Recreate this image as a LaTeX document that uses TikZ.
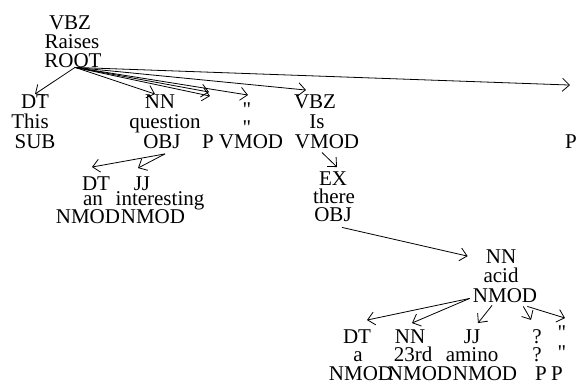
\documentclass[tikz,border=0pt]{standalone}
\usepackage{fontspec}
\setmainfont{Liberation Serif}
\newfontfamily\qfont{Liberation Serif}[Ligatures=TeXOff]
\usetikzlibrary{arrows.meta}
\newcommand\tokfont{\fontsize{21pt}{20pt}\selectfont}
\newcommand\dq{{\qfont\symbol{34}}}
\begin{document}
\begin{tikzpicture}[x=1pt,y=-1pt,
  tok/.style={inner sep=0pt, anchor=base, font=\tokfont},
  dep/.style={-{Straight Barb[length=7pt,width=13pt]}, line width=0.8pt}]
\path[fill=white] (0,0) rectangle (577,383);
\useasboundingbox (0,0) rectangle (577,383);
% root
\node[tok] (rootT) at (70,29) {VBZ};
\node[tok] (rootW) at (72,48) {Raises};
\node[tok] (rootL) at (73,67) {ROOT};
% This
\node[tok] (thisT) at (35,108) {DT};
\node[tok] (thisW) at (30,128) {This};
\node[tok] (thisL) at (35,148) {SUB};
% question
\node[tok] (qT) at (160,108) {NN};
\node[tok] (qW) at (165,128) {question};
\node[tok] (qL) at (162,148) {OBJ};
% P
\node[tok] (pL) at (208,148) {P};
% quote
\node[tok] (qtT) at (247,116) {\dq};
\node[tok] (qtW) at (247,134) {\dq};
\node[tok] (qtL) at (251,148) {VMOD};
% Is
\node[tok] (isT) at (315,108) {VBZ};
\node[tok] (isW) at (317,128) {Is};
\node[tok] (isL) at (327,148) {VMOD};
% right P
\node[tok] (rL) at (571,148) {P};
% an
\node[tok] (anT) at (96,190) {DT};
\node[tok] (anW) at (93,205) {an};
\node[tok] (anL) at (88,223) {NMOD};
% interesting
\node[tok] (inT) at (142,190) {JJ};
\node[tok] (inW) at (160,205) {interesting};
\node[tok] (inL) at (153,223) {NMOD};
% there
\node[tok] (thT) at (333,185) {EX};
\node[tok] (thW) at (334,203) {there};
\node[tok] (thL) at (333,221) {OBJ};
% acid
\node[tok] (acT) at (501,263) {NN};
\node[tok] (acW) at (501,282) {acid};
\node[tok] (acL) at (505,302) {NMOD};
% a
\node[tok] (aT) at (357,343) {DT};
\node[tok] (aW) at (358,361) {a};
\node[tok] (aL) at (361,380) {NMOD};
% 23rd
\node[tok] (nnT) at (410,343) {NN};
\node[tok] (nnW) at (413,361) {23rd};
\node[tok] (nnL) at (420,380) {NMOD};
% amino
\node[tok] (amT) at (472,343) {JJ};
\node[tok] (amW) at (472,361) {amino};
\node[tok] (amL) at (485,380) {NMOD};
% ?
\node[tok] (quT) at (537,343) {?};
\node[tok] (quW) at (537,361) {?};
\node[tok] (quL) at (541,380) {P};
% ''
\node[tok] (dqT) at (562,339) {\dq};
\node[tok] (dqW) at (562,359) {\dq};
\node[tok] (dqL) at (557,380) {P};
% arcs
\draw[dep] ([xshift=2pt]rootL.south) -- (thisT.north);
\draw[dep] ([xshift=2pt]rootL.south) -- ([xshift=-5pt]qT.north);
\draw[dep] ([xshift=2pt]rootL.south) -- ([xshift=1pt,yshift=42pt]pL.north);
\draw[dep] ([xshift=2pt]rootL.south) -- ([xshift=2pt,yshift=38pt]pL.north);
\draw[dep] ([xshift=2pt]rootL.south) -- ([xshift=1pt,yshift=7pt]qtT.north);
\draw[dep] ([xshift=2pt]rootL.south) -- ([xshift=-9pt,yshift=4pt]isT.north);
\draw[dep] ([xshift=2pt]rootL.south) -- ([xshift=-1pt,yshift=49pt]rL.north);
\draw[dep] ([xshift=3pt,yshift=-5.5pt]qL.south) -- ([xshift=-4pt,yshift=9pt]anT.north);
\draw[dep] ([xshift=3pt,yshift=-5.5pt]qL.south) -- ([xshift=-4pt,yshift=8pt]inT.north);
\draw[dep] ([xshift=-5pt,yshift=-4pt]isL.south) -- ([xshift=4pt,yshift=4pt]thT.north);
\draw[dep] ([xshift=9pt,yshift=-6pt]thL.south) -- ([xshift=-18pt]acT.west);
\draw[dep] ([xshift=-3pt,yshift=4pt]acL.south west) -- ([xshift=10pt,yshift=9pt]aT.north);
\draw[dep] ([xshift=-3pt,yshift=4pt]acL.south west) -- ([xshift=2pt,yshift=6pt]nnT.north);
\draw[dep] ([xshift=-13pt,yshift=-3pt]acL.south) -- ([xshift=6pt,yshift=6pt]amT.north);
\draw[dep] ([xshift=-14pt,yshift=-4pt]acL.south east) -- ([xshift=-6pt,yshift=9pt]quT.north);
\draw[dep] ([xshift=-10pt,yshift=-4pt]acL.south east) -- ([xshift=3pt,yshift=7pt]dqT.north);
\end{tikzpicture}
\end{document}
